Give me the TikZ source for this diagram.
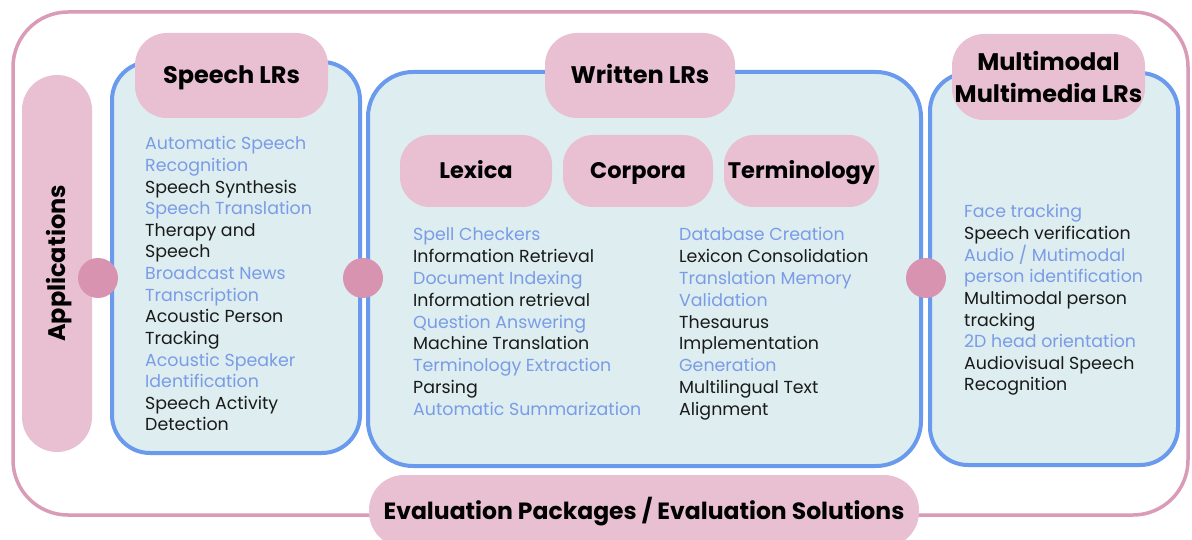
\documentclass[tikz,border=0pt]{standalone}
\usepackage{fontspec}
\setmainfont{Poppins}
\definecolor{outerpink}{HTML}{DA9BB6}
\definecolor{pillpink}{HTML}{E8C0D2}
\definecolor{dotpink}{HTML}{D893B0}
\definecolor{boxblue}{HTML}{6A9AEE}
\definecolor{boxfill}{HTML}{DDEDF0}
\definecolor{txtblue}{HTML}{7A9CE6}
\definecolor{txtblack}{HTML}{1A1A1A}
\tikzset{
  outerframe/.style={draw=outerpink, line width=3.5pt, rounded corners=55pt, fill=white},
  bluebox/.style={draw=boxblue, line width=4pt, fill=boxfill, rounded corners=38pt, inner sep=0pt},
  pill/.style={fill=pillpink, rounded corners=#1, inner sep=0pt, align=center, font=\fontsize{24}{32}\selectfont\bfseries, text=black},
  pill/.default=32pt,
  subpill/.style={pill=30pt, font=\fontsize{22.5}{29}\selectfont\bfseries},
  oneline/.style={text height=18pt, text depth=2pt},
  dot/.style={circle, fill=dotpink, minimum size=40pt, inner sep=0pt},
  item/.style={anchor=base west, inner sep=0pt, font=\fontsize{17.4}{21}\selectfont},
}
\begin{document}
\begin{tikzpicture}[x=1pt,y=-1pt]
\useasboundingbox (0,0) rectangle (1192,540);
\fill[white] (0,0) rectangle (1192,540);
% outer frame
\draw[outerframe] (13,12) rectangle (1188,515);
% applications
\node[pill=35pt, minimum width=70pt, minimum height=377pt] (app) at (57,263.5) {};
\node[rotate=90, oneline, inner sep=0pt, font=\fontsize{24}{32}\selectfont\bfseries] (apptxt) at (app.center) {Applications};
% boxes
\node[bluebox, minimum width=248pt, minimum height=391pt] (speech) at (236,257.5) {};
\node[bluebox, minimum width=553pt, minimum height=394pt, rounded corners=45pt] (written) at (644.5,269) {};
\node[bluebox, minimum width=248pt, minimum height=392pt] (multi) at (1054,269) {};
% headers
\node[pill, oneline, minimum width=193pt, minimum height=85pt] (speechhd) at (231.5,75.5) {Speech LRs};
\node[pill, oneline, minimum width=190pt, minimum height=85pt] (writtenhd) at (640,75.5) {Written LRs};
\node[pill, minimum width=193pt, minimum height=86pt] (multihd) at (1048.5,77) {Multimodal\\Multimedia LRs};
\node[subpill, oneline, minimum width=152pt, minimum height=72pt] (lexica) at (476,171) {Lexica};
\node[subpill, oneline, minimum width=150pt, minimum height=72pt] (corpora) at (638,171) {Corpora};
\node[subpill, oneline, minimum width=155pt, minimum height=72pt] (termin) at (801.5,171) {Terminology};
% dots
\node[dot] (d1) at (98,278) {};
\node[dot] (d2) at (363,278) {};
\node[dot] (d3) at (926,278) {};
% evaluation
\node[pill=35pt, oneline, minimum width=550pt, minimum height=72pt, font=\fontsize{23.5}{30}\selectfont\bfseries] (evalp) at (644,511) {Evaluation Packages / Evaluation Solutions};
% speech items
\foreach \t/\c [count=\i] in {Automatic Speech/txtblue, Recognition/txtblue, Speech Synthesis/txtblack, Speech Translation/txtblue, Therapy and/txtblack, Speech/txtblack, Broadcast News/txtblue, Transcription/txtblue, Acoustic Person/txtblack, Tracking/txtblack, Acoustic Speaker/txtblue, Identification/txtblue, Speech Activity/txtblack, Detection/txtblack}
  \node[item, text=\c] (sp\i) at (145,{150+(\i-1)*21.6}) {\t};
% written left
\foreach \t/\c [count=\i] in {Spell Checkers/txtblue, Information Retrieval/txtblack, Document Indexing/txtblue, Information retrieval/txtblack, Question Answering/txtblue, Machine Translation/txtblack, Terminology Extraction/txtblue, Parsing/txtblack, Automatic Summarization/txtblue}
  \node[item, text=\c] (wl\i) at (413,{241+(\i-1)*21.75}) {\t};
% written right
\foreach \t/\c [count=\i] in {Database Creation/txtblue, Lexicon Consolidation/txtblack, Translation Memory/txtblue, Validation/txtblue, Thesaurus/txtblack, Implementation/txtblack, Generation/txtblue, Multilingual Text/txtblack, Alignment/txtblack}
  \node[item, text=\c] (wr\i) at (679,{241+(\i-1)*21.75}) {\t};
% multimodal
\foreach \t/\c [count=\i] in {Face tracking/txtblue, Speech verification/txtblack, {Audio / Mutimodal}/txtblue, person identification/txtblue, Multimodal person/txtblack, tracking/txtblack, 2D head orientation/txtblue, Audiovisual Speech/txtblack, Recognition/txtblack}
  \node[item, text=\c] (mm\i) at (964,{218+(\i-1)*21.6}) {\t};
\end{tikzpicture}
\end{document}
